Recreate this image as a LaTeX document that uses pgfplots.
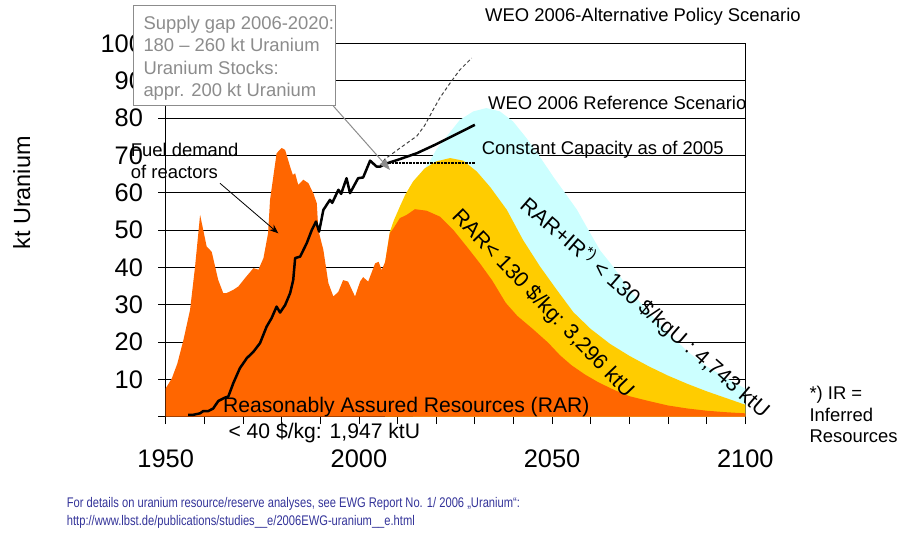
\documentclass[border=0pt]{standalone}
\usepackage{pgfplots}
\pgfplotsset{compat=1.18}
\usepackage{fontspec}
\setmainfont{Liberation Sans}
\newfontfamily\narrowfont[FakeStretch=0.8]{Liberation Sans}
\usetikzlibrary{arrows.meta}
\definecolor{rarorange}{RGB}{255,102,0}
\definecolor{raryellow}{RGB}{255,204,0}
\definecolor{rarcyan}{RGB}{204,255,255}
\definecolor{boxgray}{RGB}{140,140,140}
\definecolor{footblue}{RGB}{51,51,153}
\begin{document}
\begin{tikzpicture}[x=1bp,y=1bp]
\useasboundingbox (0,0) rectangle (899,535);
\begin{axis}[
  at={(165.7bp,118.3bp)}, anchor=south west,
  scale only axis, width=579.6bp, height=373.2bp,
  xmin=1950, xmax=2100, ymin=0, ymax=100,
  xtick={1950,1960,...,2100},
  xticklabels={1950,,,,,2000,,,,,2050,,,,,2100},
  ytick={0,10,...,100},
  yticklabels={,10,20,30,40,50,60,70,80,90,100},
  xtick pos=bottom, ytick pos=left,
  tick align=outside,
  major tick length=7.5bp,
  tick style={black, line width=0.8bp},
  ymajorgrids, grid style={black, line width=0.8bp},
  axis line style={black, line width=0.8bp},
  ticklabel style={font=\fontsize{25.5}{28}\selectfont, inner sep=0pt},
  xticklabel style={anchor=north, yshift=-25bp},
  yticklabel style={anchor=east, xshift=-15bp},
  clip=false,
]
% RAR+IR < 130 $/kgU
\addplot[fill=rarcyan, draw=none] coordinates {
(2014,63)(2017,66.5)(2018.5,68.8)(2020,71.5)(2022.7,75.1)(2026.1,79.5)(2029.6,81.8)(2033,82.7)(2036.5,81.8)(2039.9,79.1)(2043.4,74.6)(2046.8,69.7)(2050.3,64.3)(2053.3,60)(2056.4,55.5)(2059.4,50)(2062.4,44.6)(2065.8,40.2)(2070,34)(2075,28)(2080,22.5)(2085,17.5)(2090,13.5)(2095,10.4)(2100,7.5)
} \closedcycle;
% RAR < 130 $/kg
\addplot[fill=raryellow, draw=none] coordinates {
(2006.8,41.5)(2008,49.5)(2009,52.5)(2010.6,56.3)(2012,59.5)(2014,63)(2017,66.5)(2020,68.4)(2023.6,69.3)(2027,68.6)(2030.5,65.7)(2034,61.5)(2038.3,55.4)(2042.5,47.3)(2046.9,40.2)(2051.2,34)(2055.5,28)(2060,23.5)(2065,19.5)(2070,16.3)(2075,13.5)(2080,11)(2085,8.8)(2090,6.8)(2095,5)(2100,3.2)
} \closedcycle;
% Production history and RAR < 40 $/kg
\addplot[fill=rarorange, draw=none] coordinates {
(1950,7.6)(1951.6,10.3)(1953,14.2)(1954.6,20.6)(1956.3,28.6)(1957.6,40.2)(1958.9,54.1)(1960.6,45.6)(1961.9,44.2)(1963.6,36.6)(1964.9,33.1)(1965.7,33.1)(1967.5,34)(1968.8,34.9)(1970.5,37.1)(1972.7,39.8)(1974,39.4)(1975.3,42.5)(1976.5,49.2)(1977,58.1)(1978.7,70.6)(1980,72)(1980.9,71.5)(1982.2,67)(1982.9,64.8)(1983.5,65.2)(1984.3,62.1)(1985.6,63.5)(1986.9,62.6)(1988.2,59.9)(1989.1,57.2)(1989.5,50)(1990.8,44.7)(1992.1,35.8)(1993.4,32.2)(1994.7,33.5)(1995.9,36.6)(1997.2,36.2)(1999,32.2)(2000.3,36.2)(2001.1,37.4)(2002.4,36.2)(2004.2,41.1)(2005.1,41.5)(2005.9,39.3)(2006.8,41.5)(2008,49.2)(2008.9,50.4)(2010.6,53.2)(2012.4,54.1)(2014.5,55.6)(2017.5,55.2)(2021,53.6)(2024.4,50.1)(2027.9,45.6)(2031.3,41.1)(2034.5,36.5)(2038,30.5)(2041,27)(2045,23.5)(2049,19.8)(2052,16.5)(2055,13.8)(2058.5,11.3)(2062,9.2)(2066,7.2)(2070,5.5)(2075,4.2)(2080,3.0)(2085,2.2)(2090,1.6)(2095,1.2)(2100,0.9)
} \closedcycle;
% Alternative policy scenario (dashed)
\addplot[gray!50!black, line width=1bp, dash pattern=on 3.5bp off 2.5bp] coordinates {
(2005.5,67)(2006.7,69)(2010,71.5)(2015,75.2)(2017,78)(2019.2,82.2)(2021,85.5)(2023.6,89.4)(2026.1,92.9)(2029.2,96.1)
};
% Constant capacity
\addplot[black, line width=2.4bp, dash pattern=on 0.8bp off 0.6bp] coordinates {(2006.7,67.9)(2030,67.9)};
% Reference scenario
\addplot[black, line width=2.5bp] coordinates {
(2006.7,67.7)(2010,68.8)(2015,70.6)(2020,73)(2025,75.6)(2030,78.2)
};
% Fuel demand of reactors
\addplot[black, line width=2.5bp, line join=round] coordinates {
(1955.8,0.5)(1957.1,0.5)(1958.9,0.9)(1959.7,1.5)(1961,1.5)(1962.3,2.2)(1963.6,4.2)(1965.3,5.1)(1966.2,5.4)(1967.5,9.0)(1969.2,13.0)(1971,15.7)(1972.7,17.4)(1974.4,19.7)(1976.1,24.1)(1977.4,26.4)(1978.7,29.5)(1979.6,27.9)(1980.9,29.9)(1982.2,33.1)(1983,36.6)(1983.5,42.5)(1984.8,42.9)(1986.5,46.5)(1987.8,50)(1988.9,52.3)(1989.7,49.6)(1990.8,55.4)(1992.5,58.1)(1993.1,57.3)(1994.7,60.8)(1995.4,59.7)(1996.8,63.9)(1997.7,59.9)(1999.8,63.9)(2001.1,64.1)(2002.9,68.6)(2004.6,67)(2005.5,67)(2006.7,67.7)
};
\end{axis}
% annotations
\node[anchor=base west, font=\fontsize{18.5}{22}\selectfont, inner sep=0pt] at (485,513.4) {WEO 2006-Alternative Policy Scenario};
\node[anchor=base west, font=\fontsize{18.5}{22}\selectfont, inner sep=0pt] at (488,425.1) {WEO 2006 Reference Scenario};
\node[anchor=base west, font=\fontsize{18.5}{22}\selectfont, inner sep=0pt] at (481.7,380.1) {Constant Capacity as of 2005};
\node[anchor=base west, font=\fontsize{18.5}{22}\selectfont, inner sep=0pt] at (130.7,378.4) {Fuel demand};
\node[anchor=base west, font=\fontsize{18.5}{22}\selectfont, inner sep=0pt] at (130.7,356.7) {of reactors};
\draw[black, line width=0.8bp, -{Stealth[length=9bp,width=7bp]}] (220,351.7) -- (278.3,301.7);
\node[anchor=base west, font=\fontsize{21.2}{24}\selectfont, inner sep=0pt] at (223,122.3) {Reasonably Assured Resources (RAR)};
\node[anchor=base west, font=\fontsize{21.2}{24}\selectfont, inner sep=0pt] at (228.3,96.7) {< 40 \$/kg: 1,947 ktU};
\node[rotate=-46, font=\fontsize{21.5}{24}\selectfont, inner sep=0pt] at (542.5,230.8) {RAR< 130 \$/kg: 3,296 ktU};
\node[rotate=-41, font=\fontsize{21.5}{24}\selectfont, inner sep=0pt] at (645,227.5) {RAR+IR\textsuperscript{*)} < 130 \$/kgU : 4,743 ktU};
\node[anchor=base west, font=\fontsize{18.5}{22}\selectfont, inner sep=0pt] at (809.3,135.7) {*) IR =};
\node[anchor=base west, font=\fontsize{18.5}{22}\selectfont, inner sep=0pt] at (809.3,113.4) {Inferred};
\node[anchor=base west, font=\fontsize{18.5}{22}\selectfont, inner sep=0pt] at (809.3,92.4) {Resources};
\node[rotate=90, font=\fontsize{23.5}{26}\selectfont, inner sep=0pt] at (21.7,342) {kt Uranium};
% supply gap box
\draw[boxgray, line width=1bp, fill=white] (133,429) rectangle (335,529);
\node[anchor=base west, text=boxgray, font=\fontsize{18.5}{22}\selectfont, inner sep=0pt] at (143.3,505.1) {Supply gap 2006-2020:};
\node[anchor=base west, text=boxgray, font=\fontsize{18.5}{22}\selectfont, inner sep=0pt] at (143.3,483.4) {180 – 260 kt Uranium};
\node[anchor=base west, text=boxgray, font=\fontsize{18.5}{22}\selectfont, inner sep=0pt] at (143.3,460.1) {Uranium Stocks:};
\node[anchor=base west, text=boxgray, font=\fontsize{18.5}{22}\selectfont, inner sep=0pt] at (143.3,438.4) {appr. 200 kt Uranium};
\draw[boxgray, line width=1bp, -{Triangle[length=11bp,width=8bp]}] (333.3,429) -- (390,365);
% footer
\node[anchor=base west, text=footblue, font=\narrowfont\fontsize{14}{16}\selectfont, inner sep=0pt] at (66.7,27) {For details on uranium resource/reserve analyses, see EWG Report No. 1/ 2006 „Uranium“:};
\node[anchor=base west, text=footblue, font=\narrowfont\fontsize{14}{16}\selectfont, inner sep=0pt] at (66.7,9.6) {http://www.lbst.de/publications/studies\_\_e/2006EWG-uranium\_\_e.html};
\end{tikzpicture}
\end{document}
